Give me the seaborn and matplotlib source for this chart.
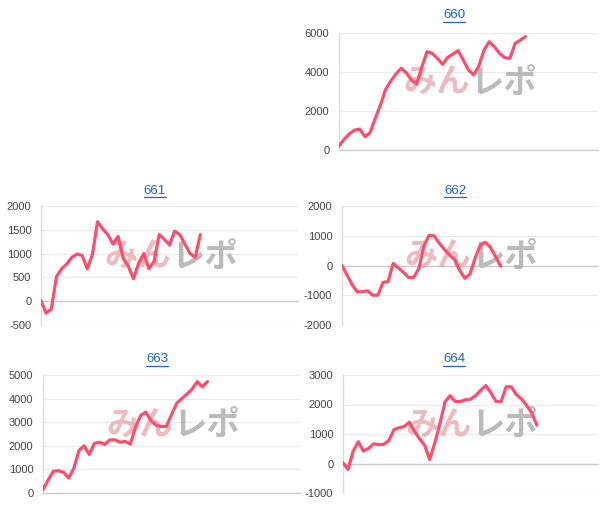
import numpy as np
import pandas as pd
import seaborn as sns
import matplotlib
matplotlib.use("Agg")
import matplotlib.pyplot as plt
from matplotlib.lines import Line2D

# ---- data ----
titles = ["660", "661", "662", "663", "664"]
s660 = [200, 550, 820, 1020, 1070, 680, 890, 1620, 2300, 3100, 3530, 3890, 4180,
        3950, 3580, 3370, 4260, 5030, 4940, 4690, 4380, 4740, 4910, 5080, 4600,
        4090, 3840, 4300, 5110, 5540, 5280, 4940, 4720, 4690, 5450, 5620, 5800]
s661 = [10, -250, -170, 510, 680, 780, 920, 990, 960, 680, 980, 1670, 1520, 1400,
        1200, 1360, 900, 730, 470, 800, 1000, 680, 840, 1400, 1300, 1180, 1470,
        1400, 1200, 1000, 920, 1400]
s662 = [0, -320, -650, -890, -880, -850, -1000, -1000, -570, -540, 70, -80, -230,
        -400, -400, -110, 650, 1010, 1000, 750, 540, 350, 200, -170, -430, -290,
        250, 680, 780, 610, 300, -20]
s663 = [140, 550, 920, 940, 880, 630, 1050, 1800, 2000, 1630, 2100, 2150, 2060,
        2250, 2250, 2150, 2190, 2070, 2800, 3280, 3430, 3070, 2870, 2820, 2820,
        3320, 3800, 4000, 4190, 4400, 4720, 4500, 4720]
s664 = [30, -200, 420, 740, 420, 510, 670, 640, 650, 780, 1150, 1210, 1250, 1400,
        1100, 840, 620, 130, 700, 1340, 2090, 2300, 2100, 2100, 2160, 2180, 2300,
        2480, 2640, 2400, 2100, 2100, 2600, 2600, 2330, 2190, 1970, 1720, 1300]
series = [s660, s661, s662, s663, s664]
yticks = [
    [0, 2000, 4000, 6000],
    [-500, 0, 500, 1000, 1500, 2000],
    [-2000, -1000, 0, 1000, 2000],
    [0, 1000, 2000, 3000, 4000, 5000],
    [-1000, 0, 1000, 2000, 3000],
]
x_slots = 50

# ---- layout (pixels) ----
W, H = 609, 528
boxes = [  # left, right, top, bottom
    (339, 598, 32.7, 150),
    (41, 298, 206, 325),
    (342, 598, 206, 325),
    (43, 300, 375, 493),
    (343, 598, 375, 493),
]
title_pos = [(454, 15), (155, 190.5), (455, 190.5), (157, 359), (454, 359)]

sns.set_theme(style="white")
plt.rcParams['font.family'] = ['Liberation Sans', 'DejaVu Sans']

fig = plt.figure(figsize=(W / 100, H / 100), dpi=100)
fig.patch.set_facecolor("white")

line_color = "#ff4d6b"
title_color = "#1a66c9"

for k in range(5):
    L, R, T, B = boxes[k]
    ax = fig.add_axes([L / W, 1 - B / H, (R - L) / W, (B - T) / H])
    vals = series[k]
    df = pd.DataFrame({"x": np.arange(len(vals)), "y": vals})
    sns.lineplot(data=df, x="x", y="y", ax=ax, color=line_color, linewidth=2.3,
                 zorder=5)
    ax.set_xlim(0, x_slots)
    yt = yticks[k]
    ax.set_ylim(yt[0], yt[-1])
    ax.set_yticks(yt)
    ax.set_yticklabels([str(v) for v in yt])
    ax.set_xticks([])
    ax.set_xlabel("")
    ax.set_ylabel("")
    ax.tick_params(axis="y", length=0, pad=7, labelsize=8, labelcolor="#444444")
    for s in ["top", "right", "bottom"]:
        ax.spines[s].set_visible(False)
    ax.spines["left"].set_color("#dddddd")
    ax.spines["left"].set_linewidth(1.0)
    ax.spines["left"].set_zorder(1)
    ax.grid(axis="y", color="#ebebeb", linewidth=1.0)
    ax.set_axisbelow(True)
    ax.axhline(0, color="#cccccc", linewidth=1.0, zorder=2, clip_on=False)
    # watermark
    ax.text(0.506, 0.57, "みん", transform=ax.transAxes, ha="right", va="center",
            fontsize=24, fontweight="bold", color="#e9a3a8", alpha=0.75,
            family=["Noto Sans CJK JP"], zorder=3)
    ax.text(0.506, 0.57, "レポ", transform=ax.transAxes, ha="left", va="center",
            fontsize=24, fontweight="bold", color="#b4b4b4", alpha=0.9,
            family=["Noto Sans CJK JP"], zorder=3)

# titles (link style, underlined)
fig.canvas.draw()
renderer = fig.canvas.get_renderer()
for k in range(5):
    tx, ty = title_pos[k]
    t = fig.text(tx / W, 1 - ty / H, titles[k], ha="center", va="center",
                 fontsize=9.5, color=title_color)
    bb = t.get_window_extent(renderer=renderer)
    yline = (bb.y0 - 0.5) / fig.bbox.height
    fig.add_artist(Line2D([bb.x0 / fig.bbox.width, bb.x1 / fig.bbox.width],
                          [yline, yline], color=title_color, linewidth=0.9,
                          transform=fig.transFigure))

fig.savefig("out.png", dpi=100, facecolor="white")
